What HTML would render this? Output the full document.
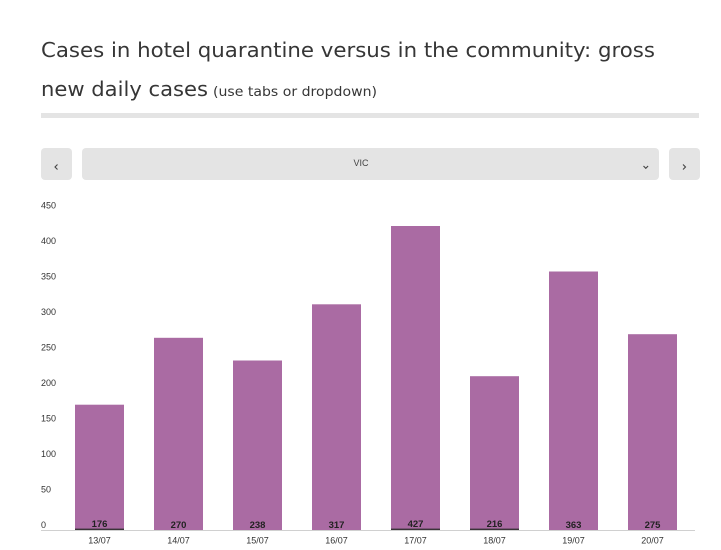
<!DOCTYPE html>
<html>
<head>
<meta charset="utf-8">
<style>
html,body{margin:0;padding:0;background:#fff;}
svg{display:block;}
text{font-family:"Liberation Sans",sans-serif;}
.t{font-family:"DejaVu Sans","Liberation Sans",sans-serif;}
</style>
</head>
<body>
<svg width="721" height="550" viewBox="0 0 721 550" xmlns="http://www.w3.org/2000/svg">
  <!-- Title -->
  <text class="t" x="41" y="57" font-size="20" fill="#363636" textLength="614" lengthAdjust="spacingAndGlyphs">Cases in hotel quarantine versus in the community: gross</text>
  <text class="t" x="41" y="96" font-size="20" fill="#363636" textLength="167" lengthAdjust="spacingAndGlyphs">new daily cases</text>
  <text class="t" x="213" y="96" font-size="13.5" fill="#363636" textLength="164" lengthAdjust="spacingAndGlyphs">(use tabs or dropdown)</text>
  <rect x="41" y="113" width="658" height="5" fill="#e4e4e4"/>

  <!-- Controls -->
  <rect x="41" y="148" width="31" height="32" rx="4" fill="#e4e4e4"/>
  <rect x="82" y="148" width="577" height="32" rx="4" fill="#e4e4e4"/>
  <rect x="669" y="148" width="31" height="32" rx="4" fill="#e4e4e4"/>
  <path d="M57.5 164.5 L55 167 L57.5 169.5" stroke="#444" stroke-width="1.1" fill="none"/>
  <path d="M683 164.5 L685.5 167 L683 169.5" stroke="#444" stroke-width="1.1" fill="none"/>
  <path d="M643.5 166 L645.8 168.3 L648.1 166" stroke="#444" stroke-width="1.1" fill="none"/>
  <text x="361" y="166" font-size="9" fill="#444" text-anchor="middle">VIC</text>

  <!-- Y axis labels -->
  <g font-size="9" fill="#333">
    <text x="41" y="208.5">450</text>
    <text x="41" y="244">400</text>
    <text x="41" y="279.5">350</text>
    <text x="41" y="315">300</text>
    <text x="41" y="350.5">250</text>
    <text x="41" y="386">200</text>
    <text x="41" y="421.5">150</text>
    <text x="41" y="457">100</text>
    <text x="41" y="492.5">50</text>
    <text x="41" y="528">0</text>
  </g>

  <!-- Bars -->
  <g fill="#aa6ba3">
    <rect x="75" y="404.7" width="49" height="125.3"/>
    <rect x="154" y="337.8" width="49" height="192.2"/>
    <rect x="233" y="360.5" width="49" height="169.5"/>
    <rect x="312" y="304.3" width="49" height="225.7"/>
    <rect x="391" y="226" width="49" height="304"/>
    <rect x="470" y="376.2" width="49" height="153.8"/>
    <rect x="549" y="271.5" width="49" height="258.5"/>
    <rect x="628" y="334.2" width="49" height="195.8"/>
  </g>
  <!-- hotel quarantine small segments -->
  <g fill="#3a3338">
    <rect x="75" y="528.6" width="49" height="1.4"/>
    <rect x="391" y="528.6" width="49" height="1.4"/>
    <rect x="470" y="528.6" width="49" height="1.4"/>
  </g>

  <!-- axis line -->
  <rect x="41" y="530" width="654" height="1" fill="#d0d0d0"/>

  <!-- value labels -->
  <g font-size="9.5" font-weight="bold" fill="#222" text-anchor="middle">
    <text x="99.5" y="527">176</text>
    <text x="178.5" y="528">270</text>
    <text x="257.5" y="528">238</text>
    <text x="336.5" y="528">317</text>
    <text x="415.5" y="527">427</text>
    <text x="494.5" y="527">216</text>
    <text x="573.5" y="528">363</text>
    <text x="652.5" y="528">275</text>
  </g>

  <!-- x labels -->
  <g font-size="9" fill="#333" text-anchor="middle">
    <text x="99.5" y="543.5">13/07</text>
    <text x="178.5" y="543.5">14/07</text>
    <text x="257.5" y="543.5">15/07</text>
    <text x="336.5" y="543.5">16/07</text>
    <text x="415.5" y="543.5">17/07</text>
    <text x="494.5" y="543.5">18/07</text>
    <text x="573.5" y="543.5">19/07</text>
    <text x="652.5" y="543.5">20/07</text>
  </g>
</svg>
</body>
</html>
